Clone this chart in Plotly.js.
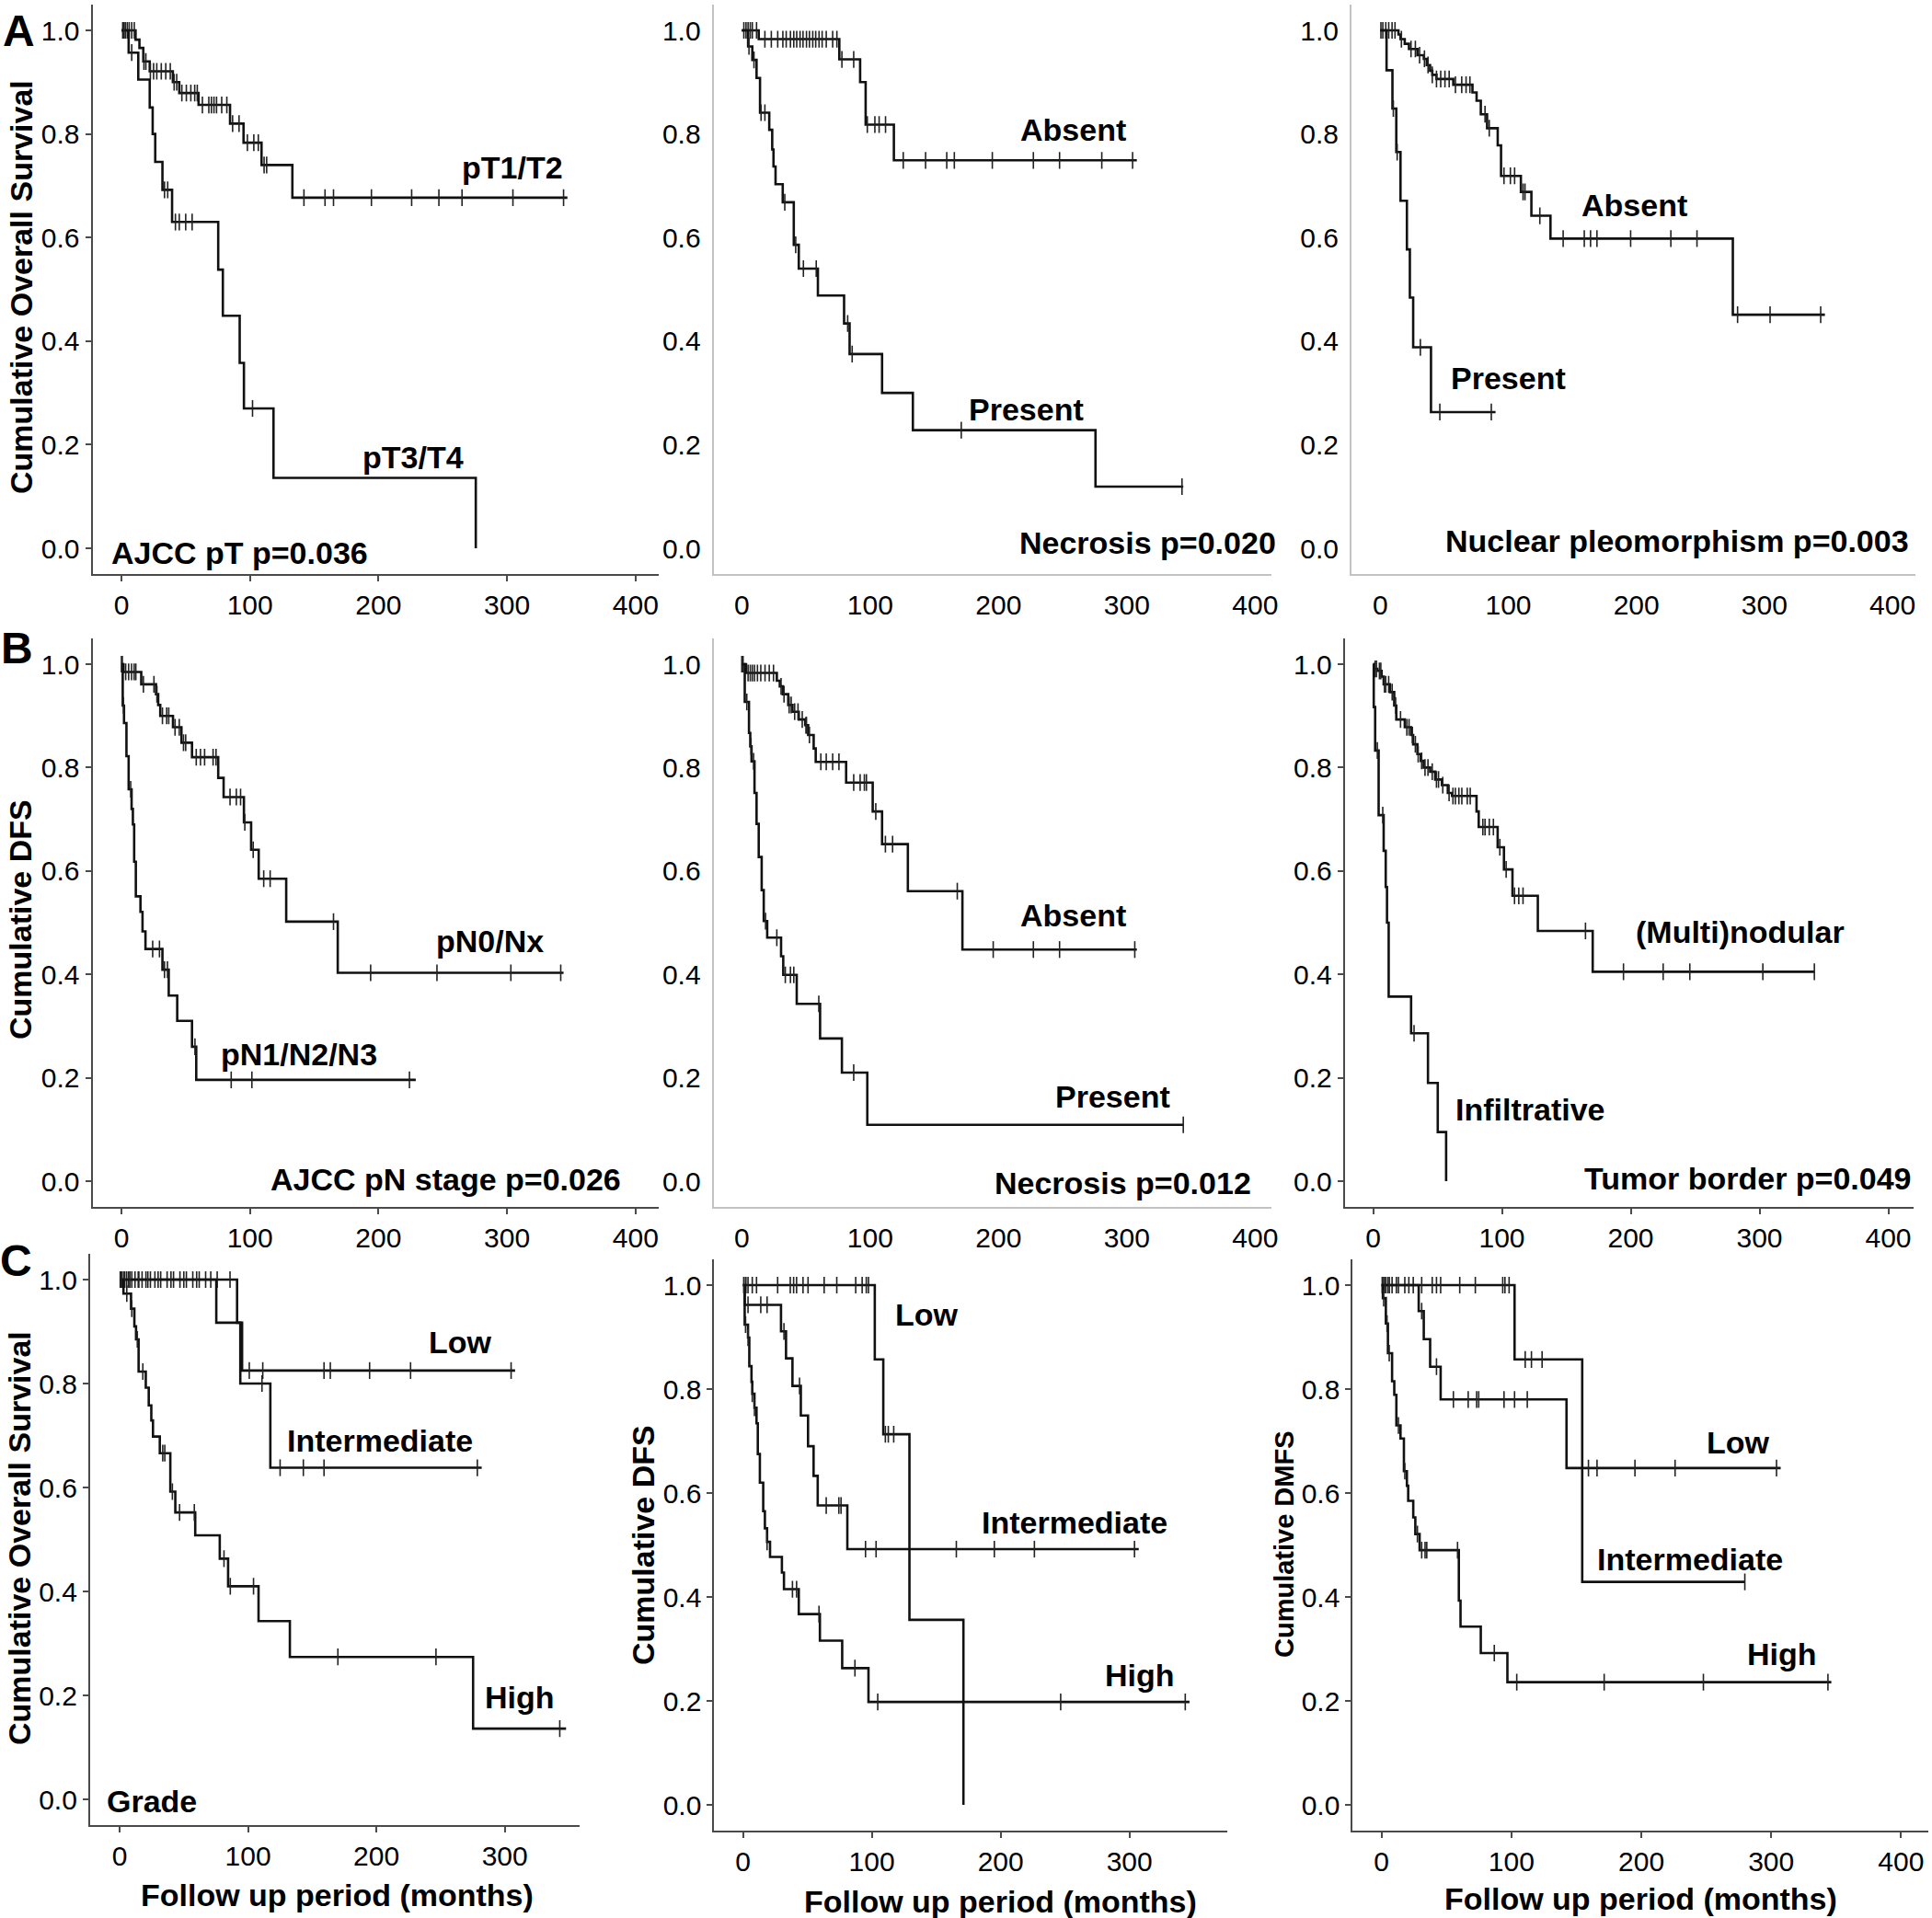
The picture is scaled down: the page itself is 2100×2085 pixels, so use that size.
<!DOCTYPE html>
<html><head><meta charset="utf-8">
<script src="https://cdn.plot.ly/plotly-3.0.1.min.js"></script>
<style>html,body{margin:0;padding:0;background:#fff}#chart{width:2100px;height:2085px}</style>
</head><body><div id="chart"></div>
<script>
// ===== DATA (months, cumulative survival) =====
// Panel A1: AJCC pT, overall survival
const a1_pT12_t = [11, 14, 17, 22, 40, 45, 60, 84.5, 95, 109, 133];
const a1_pT12_s = [0.982, 0.966, 0.94, 0.921, 0.90, 0.879, 0.856, 0.82, 0.783, 0.74, 0.677];
const a1_pT12_end = 347;
const a1_pT12_cens = [1, 3, 4.5, 6, 8, 10, 17.5, 19, 22.5, 25, 27.5, 31, 34.5, 38, 41, 43, 47, 50.5, 54, 57, 59, 63, 68, 70, 72, 74, 78, 82, 86.5, 91.5, 98, 103, 106.5, 111, 113, 142, 158.4, 165, 194.5, 225.8, 247, 265, 304.6, 344];
const a1_pT34_t = [5.6, 13.1, 22, 24.3, 26.3, 31.9, 39.4, 75.3, 78.9, 92, 95.3, 118.3, 275.7];
const a1_pT34_s = [0.957, 0.905, 0.851, 0.80, 0.746, 0.692, 0.63, 0.538, 0.449, 0.358, 0.27, 0.136, 0.0];
const a1_pT34_end = null;
const a1_pT34_cens = [2, 8, 33.5, 36, 42, 45, 50, 55, 102];

// Panel A2: Necrosis, overall survival
const a2_abs_t = [13.2, 76, 92.2, 96.5, 118.5];
const a2_abs_s = [0.983, 0.944, 0.90, 0.818, 0.749];
const a2_abs_end = 307.8;
const a2_abs_cens = [1.6, 3.3, 4.9, 6.6, 8.2, 11.5, 18, 23, 28, 32, 34.6, 37.9, 40.5, 42.8, 45.4, 47.7, 50.4, 52.7, 55.3, 57.6, 60.2, 62.6, 65.8, 70.8, 74.1, 78, 87.2, 97.8, 103.7, 107, 112, 125.8, 143.2, 159.7, 165.6, 195.2, 227.2, 247.6, 280.5, 304.5];
const a2_pre_t = [4.9, 8.2, 11.5, 14.2, 21.4, 23.7, 24.7, 26.3, 31.9, 40.5, 44.4, 59.3, 79.7, 84, 109.3, 133.3, 275.6];
const a2_pre_s = [0.969, 0.943, 0.908, 0.841, 0.808, 0.770, 0.737, 0.703, 0.668, 0.586, 0.540, 0.488, 0.434, 0.375, 0.300, 0.228, 0.119];
const a2_pre_end = 344;
const a2_pre_cens = [5.6, 9.5, 15, 18, 33.5, 42, 48, 58, 82.5, 86, 171, 343];

// Panel A3: Nuclear pleomorphism, overall survival
const a3_abs_t = [14.2, 15.8, 19.1, 22.4, 29, 34, 36.3, 38.9, 40.6, 43.9, 57, 72, 75.2, 78.5, 83.4, 91.7, 94.3, 109.8, 118, 132.9, 275.3];
const a3_abs_s = [0.992, 0.983, 0.974, 0.964, 0.952, 0.945, 0.933, 0.922, 0.914, 0.906, 0.895, 0.88, 0.864, 0.838, 0.811, 0.778, 0.719, 0.688, 0.642, 0.598, 0.451];
const a3_abs_end = 347.2;
const a3_abs_cens = [0.5, 2, 4.3, 6.6, 9.2, 11.5, 16.5, 24, 27.4, 30.7, 34.5, 37.3, 40.6, 43.9, 47.2, 50.5, 53.8, 58.7, 63.6, 67, 70, 81.8, 85.1, 96.6, 101.6, 104.9, 111.5, 113, 124.6, 142.8, 159.3, 164.2, 169.2, 195.5, 226.9, 247.3, 279, 304.4, 343.9];
const a3_pre_t = [4.9, 9.5, 12.5, 15.8, 20.8, 23.1, 25.7, 39.6];
const a3_pre_s = [0.923, 0.849, 0.765, 0.671, 0.577, 0.484, 0.388, 0.263];
const a3_pre_end = 90;
const a3_pre_cens = [10.2, 13.2, 31.3, 46.5, 86.7];

// Panel B1: AJCC pN stage, DFS
const b1_n0_t = [1.6, 15.4, 26.9, 28.6, 30.2, 40.1, 46.7, 54.9, 75.3, 79.5, 95.3, 100.9, 106.8, 128.2, 168.3];
const b1_n0_s = [0.985, 0.961, 0.942, 0.921, 0.90, 0.878, 0.848, 0.82, 0.78, 0.743, 0.694, 0.641, 0.585, 0.502, 0.403];
const b1_n0_end = 344;
const b1_n0_cens = [0, 0.7, 3.3, 5.6, 7.9, 9.9, 11.2, 17.1, 25.3, 27.6, 31.9, 35.2, 36.8, 41.7, 45, 48.3, 50, 58.2, 61.5, 64.7, 71.3, 73.6, 84.5, 89.4, 92.7, 96, 102.5, 110.7, 115.7, 165, 193.9, 245.5, 303, 341.8];
const b1_n1_t = [1, 2, 3.9, 5.6, 7.9, 8.9, 9.9, 11.2, 14.8, 16.4, 18.7, 31.9, 36.8, 43.4, 54.9, 58.2];
const b1_n1_s = [0.92, 0.886, 0.822, 0.758, 0.72, 0.69, 0.618, 0.551, 0.521, 0.483, 0.449, 0.409, 0.359, 0.31, 0.26, 0.196];
const b1_n1_end = 229;
const b1_n1_cens = [1.6, 7.2, 24.3, 29.6, 33.5, 35.8, 57.2, 85.4, 101.5, 224.1];

// Panel B2: Necrosis, DFS
const b2_abs_t = [3.3, 27.3, 29.6, 31.9, 36.2, 39.5, 44.4, 49.4, 51.7, 56, 57.6, 81.3, 102, 109.3, 129.4, 171.9];
const b2_abs_s = [0.983, 0.968, 0.957, 0.942, 0.921, 0.908, 0.893, 0.882, 0.863, 0.837, 0.811, 0.771, 0.715, 0.652, 0.561, 0.448];
const b2_abs_end = 307.8;
const b2_abs_cens = [0, 1, 4.9, 6.6, 8.2, 9.9, 12.2, 14.8, 18.1, 21.4, 24.7, 30.6, 32.9, 36.9, 38.5, 41.2, 43.8, 47.1, 50, 50.4, 52.7, 61.6, 65.8, 70.8, 75.7, 87.2, 92.2, 95.5, 97.1, 104.4, 111.9, 117.5, 167.9, 195.9, 227.2, 247.6, 306.2];
const b2_pre_t = [2.3, 5.6, 6.6, 7.6, 9.9, 11.5, 13.2, 15.5, 17.1, 19.8, 30.6, 32.3, 42.8, 61, 78, 97.8];
const b2_pre_s = [0.927, 0.867, 0.841, 0.812, 0.751, 0.691, 0.627, 0.563, 0.503, 0.471, 0.435, 0.399, 0.343, 0.276, 0.21, 0.109];
const b2_pre_end = 344;
const b2_pre_cens = [3.9, 7.2, 9.2, 18.5, 27.3, 33.9, 37.9, 40.5, 60, 87.2, 344];

// Panel B3: Tumor border, DFS
const b3_mul_t = [1, 3.3, 6.6, 8.2, 13.1, 16.4, 18, 24.6, 29.5, 31.1, 34.4, 37, 39.3, 44.3, 48.2, 53.4, 58, 61.3, 80.3, 82, 96.7, 101.6, 108.2, 127.9, 170.5];
const b3_mul_s = [0.991, 0.987, 0.976, 0.961, 0.946, 0.920, 0.893, 0.878, 0.863, 0.845, 0.826, 0.813, 0.80, 0.792, 0.777, 0.766, 0.751, 0.745, 0.715, 0.685, 0.646, 0.603, 0.552, 0.484, 0.405];
const b3_mul_end = 342.6;
const b3_mul_cens = [1.6, 2.6, 4.9, 6, 8.8, 9.8, 12.1, 14.8, 17.5, 21.3, 26.2, 27.9, 30.5, 32.8, 35, 37.7, 40.3, 42.6, 45.9, 49.2, 50.8, 54.1, 59, 62, 63.9, 66.6, 68.9, 73.1, 75.4, 85.2, 86.9, 90.2, 93.4, 98.4, 103.3, 109.8, 113.1, 116.4, 164.9, 194.4, 225.2, 245.9, 302.6, 342.6];
const b3_inf_t = [0.5, 1.6, 4.3, 8.2, 9.8, 10.8, 12.1, 29.5, 42.6, 50.2, 56.7];
const b3_inf_s = [0.917, 0.833, 0.708, 0.639, 0.569, 0.5, 0.357, 0.286, 0.19, 0.095, 0];
const b3_inf_end = null;
const b3_inf_cens = [3.3, 7.5, 31.8];

// Panel C1: Grade, overall survival
const c1_low_t = [91.5, 95.4];
const c1_low_s = [0.917, 0.825];
const c1_low_end = 308;
const c1_low_cens = [0.5, 2, 3.5, 5.5, 7, 9.5, 12, 14.5, 17.5, 20.5, 24, 27.5, 32, 37, 42, 47, 52, 57, 62, 67, 71, 76, 86, 101, 111.5, 159.2, 164.1, 194.7, 226.6, 304.9];
const c1_int_t = [75.3, 94, 117.4];
const c1_int_s = [0.917, 0.80, 0.638];
const c1_int_end = 282;
const c1_int_cens = [1, 4, 8, 15, 22, 30, 40, 50, 60, 110.9, 125, 143.1, 159.2, 278.6];
const c1_high_t = [3, 8.9, 11.5, 12.8, 14.8, 20.4, 22.7, 24.7, 26, 31.3, 39.5, 43.4, 58.9, 78, 84.5, 108.2, 132.6, 275.3];
const c1_high_s = [0.973, 0.944, 0.91, 0.885, 0.823, 0.792, 0.758, 0.729, 0.698, 0.666, 0.592, 0.552, 0.508, 0.463, 0.41, 0.343, 0.274, 0.136];
const c1_high_end = 347.7;
const c1_high_cens = [1, 5.6, 9.5, 13.8, 18.1, 33.6, 35.2, 41.1, 46.7, 58.2, 81.3, 86.2, 104.3, 170, 246.4, 342.8];

// Panel C2: Grade, DFS
const c2_low_t = [102.3, 108.9, 129.2, 171.1];
const c2_low_s = [0.857, 0.713, 0.356, 0];
const c2_low_end = null;
const c2_low_cens = [0.7, 2.3, 3.9, 7.2, 10.5, 26.9, 36.7, 39.3, 41.6, 46.6, 50.5, 63, 72.8, 87.5, 92.5, 95.7, 97.4, 110.5, 112.8, 117];
const c2_int_t = [1.3, 29.5, 33.4, 38.4, 44.9, 50.5, 54.8, 58, 81];
const c2_int_s = [0.962, 0.911, 0.859, 0.806, 0.749, 0.69, 0.633, 0.576, 0.492];
const c2_int_end = 307.2;
const c2_int_cens = [3.9, 13.8, 18.7, 31.8, 43.9, 64.6, 74.4, 76.1, 95.1, 103.3, 165.6, 195.1, 226.2, 303.9];
const c2_high_t = [1.3, 3.9, 4.9, 6.6, 7.2, 8.9, 10.5, 11.5, 13.1, 15.7, 17, 18.7, 21, 30.2, 31.8, 43.3, 59.7, 77, 97.4];
const c2_high_s = [0.924, 0.899, 0.844, 0.814, 0.791, 0.764, 0.734, 0.675, 0.62, 0.565, 0.532, 0.506, 0.477, 0.447, 0.415, 0.367, 0.316, 0.263, 0.198];
const c2_high_end = 346.6;
const c2_high_cens = [0.7, 2, 3.9, 7.2, 8.9, 18.7, 38.4, 41.6, 59, 86.9, 104.6, 246.6, 343.3];

// Panel C3: Grade, DMFS
const c3_low_t = [102.4, 154.5];
const c3_low_s = [0.857, 0.429];
const c3_low_end = 279.7;
const c3_low_cens = [0.5, 1.6, 3.3, 4.9, 8.1, 11.4, 17.9, 24.4, 30.9, 39, 42.3, 45.5, 60.2, 72.2, 93.3, 95, 98.2, 110.6, 115.4, 123.6, 279.7];
const c3_int_t = [28.6, 32.5, 37.4, 45.5, 142.4];
const c3_int_s = [0.95, 0.896, 0.843, 0.78, 0.648];
const c3_int_end = 307.3;
const c3_int_cens = [2.3, 6, 13, 21, 30.9, 42.3, 55.3, 66.7, 73.2, 74.8, 94.3, 102.4, 112.2, 159.3, 165.9, 195.1, 226, 304.1];
const c3_high_t = [1, 3.3, 4.9, 8.1, 9.8, 11.4, 14.6, 17.2, 19.5, 20.5, 24.4, 26, 29.3, 59.5, 60.8, 76.4, 96.9];
const c3_high_s = [0.975, 0.926, 0.869, 0.815, 0.789, 0.73, 0.705, 0.642, 0.614, 0.585, 0.553, 0.521, 0.49, 0.393, 0.343, 0.292, 0.236];
const c3_high_end = 346.3;
const c3_high_cens = [1.6, 4.2, 5.9, 13, 17.9, 27.6, 30.9, 33.5, 34.8, 58.5, 86.8, 104.1, 171.4, 247.8, 343.7];

// Tick labels
const yTicks = [0, 0.2, 0.4, 0.6, 0.8, 1.0];
const xTicks = [0, 100, 200, 300, 400];

// In-panel labels
const a1_labels = [["pT1/T2", 304, 0.735], ["pT3/T4", 226.7, 0.176], ["AJCC pT p=0.036", 92.2, -0.009]];
const a2_labels = [["Absent", 258.4, 0.808], ["Present", 221.9, 0.268], ["Necrosis p=0.020", 316.5, 0.0115]];
const a3_labels = [["Absent", 198.2, 0.663], ["Present", 99.9, 0.328], ["Nuclear pleomorphism p=0.003", 231.8, 0.014]];
const b1_labels = [["pN0/Nx", 287, 0.464], ["pN1/N2/N3", 137.9, 0.246], ["AJCC pN stage p=0.026", 252, 0.004]];
const b2_labels = [["Absent", 258.4, 0.514], ["Present", 288.9, 0.164], ["Necrosis p=0.012", 297.1, -0.004]];
const b3_labels = [["(Multi)nodular", 284.8, 0.482], ["Infiltrative", 122, 0.139], ["Tumor border p=0.049", 291, 0.006]];
const c1_labels = [["Low", 265.5, 0.879], ["Intermediate", 203, 0.691], ["High", 312, 0.196], ["Grade", 25.3, -0.004]];
const c2_labels = [["Low", 142.5, 0.943], ["Intermediate", 257.4, 0.543], ["High", 308, 0.25]];
const c3_labels = [["Low", 274.8, 0.697], ["Intermediate", 237.4, 0.473], ["High", 308.1, 0.291]];

// ===== LAYOUT CONSTANTS =====
const W = 2100, H = 2085;
const FONT = '"Liberation Sans", Arial, Helvetica, sans-serif';
const DARK = '#4a4a4a', LIGHT = '#c2c2c2';
const TICKSIZE = 30;

const panels = [
  {curves: [[a1_pT12_t, a1_pT12_s, a1_pT12_end, a1_pT12_cens], [a1_pT34_t, a1_pT34_s, a1_pT34_end, a1_pT34_cens]], labels: a1_labels, x0: 132, xs: 1.397, y1: 33, y0: 596, xr: [-22.5, 418], dark: true},
  {curves: [[a2_abs_t, a2_abs_s, a2_abs_end, a2_abs_cens], [a2_pre_t, a2_pre_s, a2_pre_end, a2_pre_cens]], labels: a2_labels, x0: 806.3, xs: 1.395, y1: 33, y0: 596, xr: [-22, 413], dark: false},
  {curves: [[a3_abs_t, a3_abs_s, a3_abs_end, a3_abs_cens], [a3_pre_t, a3_pre_s, a3_pre_end, a3_pre_cens]], labels: a3_labels, x0: 1500.3, xs: 1.392, y1: 33, y0: 596, xr: [-22.5, 418], dark: false},
  {curves: [[b1_n0_t, b1_n0_s, b1_n0_end, b1_n0_cens], [b1_n1_t, b1_n1_s, b1_n1_end, b1_n1_cens]], labels: b1_labels, x0: 132, xs: 1.397, y1: 722, y0: 1284, xr: [-22.5, 418], dark: true},
  {curves: [[b2_abs_t, b2_abs_s, b2_abs_end, b2_abs_cens], [b2_pre_t, b2_pre_s, b2_pre_end, b2_pre_cens]], labels: b2_labels, x0: 806.3, xs: 1.395, y1: 722, y0: 1284, xr: [-22, 413], dark: false},
  {curves: [[b3_mul_t, b3_mul_s, b3_mul_end, b3_mul_cens], [b3_inf_t, b3_inf_s, b3_inf_end, b3_inf_cens]], labels: b3_labels, x0: 1492.5, xs: 1.400, y1: 722, y0: 1284, xr: [-22, 419.6], dark: true},
  {curves: [[c1_low_t, c1_low_s, c1_low_end, c1_low_cens], [c1_int_t, c1_int_s, c1_int_end, c1_int_cens], [c1_high_t, c1_high_s, c1_high_end, c1_high_cens]], labels: c1_labels, x0: 130, xs: 1.3957, y1: 1391, y0: 1956, xr: [-23, 358.5], dark: true},
  {curves: [[c2_low_t, c2_low_s, c2_low_end, c2_low_cens], [c2_int_t, c2_int_s, c2_int_end, c2_int_cens], [c2_high_t, c2_high_s, c2_high_end, c2_high_cens]], labels: c2_labels, x0: 807.6, xs: 1.4003, y1: 1397, y0: 1962, xr: [-22.3, 376], dark: true},
  {curves: [[c3_low_t, c3_low_s, c3_low_end, c3_low_cens], [c3_int_t, c3_int_s, c3_int_end, c3_int_cens], [c3_high_t, c3_high_s, c3_high_end, c3_high_cens]], labels: c3_labels, x0: 1501.7, xs: 1.4117, y1: 1397, y0: 1962, xr: [-22.2, 421], dark: true}
];

function stepY(t, s, x) {
  let y = 1;
  for (let i = 0; i < t.length; i++) { if (t[i] <= x) y = s[i]; else break; }
  return y;
}

const traces = [];
const layout = {
  width: W, height: H, margin: {l: 0, r: 0, t: 0, b: 0},
  paper_bgcolor: '#fff', plot_bgcolor: 'rgba(0,0,0,0)',
  showlegend: false, font: {family: FONT, color: '#000'},
  annotations: []
};

panels.forEach((p, i) => {
  const n = i + 1;
  const xa = n === 1 ? 'x' : 'x' + n, ya = n === 1 ? 'y' : 'y' + n;
  const ymin = -0.05, ymax = 1.05, u = p.y0 - p.y1;
  const left = p.x0 + p.xr[0] * p.xs, right = p.x0 + p.xr[1] * p.xs;
  const top = p.y0 - ymax * u, bottom = p.y0 - ymin * u;
  const lc = p.dark ? DARK : LIGHT;
  const tc = p.dark ? DARK : 'rgba(0,0,0,0)';
  layout[n === 1 ? 'xaxis' : 'xaxis' + n] = {
    domain: [left / W, right / W], range: p.xr, anchor: ya,
    tickvals: xTicks, ticktext: xTicks.map(String),
    showline: true, linecolor: lc, linewidth: 2, mirror: false,
    ticks: 'outside', ticklen: 6, tickwidth: 2, tickcolor: tc,
    showgrid: false, zeroline: false, fixedrange: true,
    tickfont: {family: FONT, size: TICKSIZE, color: '#000'}
  };
  layout[n === 1 ? 'yaxis' : 'yaxis' + n] = {
    domain: [1 - bottom / H, 1 - top / H], range: [ymin, ymax], anchor: xa,
    tickvals: yTicks, ticktext: yTicks.map(v => v.toFixed(1)),
    showline: true, linecolor: lc, linewidth: 2, mirror: false,
    ticks: 'outside', ticklen: 6, tickwidth: 2, tickcolor: tc,
    showgrid: false, zeroline: false, fixedrange: true,
    tickfont: {family: FONT, size: TICKSIZE, color: '#000'}
  };
  p.curves.forEach(c => {
    const [t, s, end, cens] = c;
    const xs = [0].concat(t), ys = [1].concat(s);
    if (end !== null) { xs.push(end); ys.push(s[s.length - 1]); }
    traces.push({x: xs, y: ys, mode: 'lines', xaxis: xa, yaxis: ya, hoverinfo: 'skip',
      line: {shape: 'hv', color: '#111', width: 2.6}});
    traces.push({x: cens, y: cens.map(v => stepY(t, s, v)), mode: 'markers', xaxis: xa, yaxis: ya, hoverinfo: 'skip',
      marker: {symbol: 'line-ns-open', size: 13, color: '#222', line: {width: 1.6, color: '#222'}}});
  });
  p.labels.forEach(l => {
    layout.annotations.push({text: '<b>' + l[0] + '</b>', x: l[1], y: l[2], xref: xa, yref: ya,
      xanchor: 'center', yanchor: 'middle', showarrow: false,
      font: {family: FONT, size: 34, color: '#000'}});
  });
});

// Axis titles and panel letters (paper positions in pixels)
const yTitles = [["Cumulative Overall Survival", 23, 312, 34], ["Cumulative DFS", 22, 1000, 34],
  ["Cumulative Overall Survival", 21, 1672, 34], ["Cumulative DFS", 699, 1680, 34], ["Cumulative DMFS", 1396, 1679, 29]];
const xTitles = [["Follow up period (months)", 366, 2060], ["Follow up period (months)", 1087, 2067], ["Follow up period (months)", 1783, 2064]];
const letters = [["A", 20, 33], ["B", 18, 704], ["C", 17, 1370]];

yTitles.forEach(t => layout.annotations.push({text: '<b>' + t[0] + '</b>', x: t[1] / W, y: 1 - t[2] / H,
  xref: 'paper', yref: 'paper', xanchor: 'center', yanchor: 'middle', textangle: -90, showarrow: false,
  font: {family: FONT, size: t[3], color: '#000'}}));
xTitles.forEach(t => layout.annotations.push({text: '<b>' + t[0] + '</b>', x: t[1] / W, y: 1 - t[2] / H,
  xref: 'paper', yref: 'paper', xanchor: 'center', yanchor: 'middle', showarrow: false,
  font: {family: FONT, size: 34, color: '#000'}}));
letters.forEach(t => layout.annotations.push({text: '<b>' + t[0] + '</b>', x: t[1] / W, y: 1 - t[2] / H,
  xref: 'paper', yref: 'paper', xanchor: 'center', yanchor: 'middle', showarrow: false,
  font: {family: FONT, size: 48, color: '#000'}}));

Plotly.newPlot('chart', traces, layout, {staticPlot: true, displayModeBar: false});
</script>
</body></html>
